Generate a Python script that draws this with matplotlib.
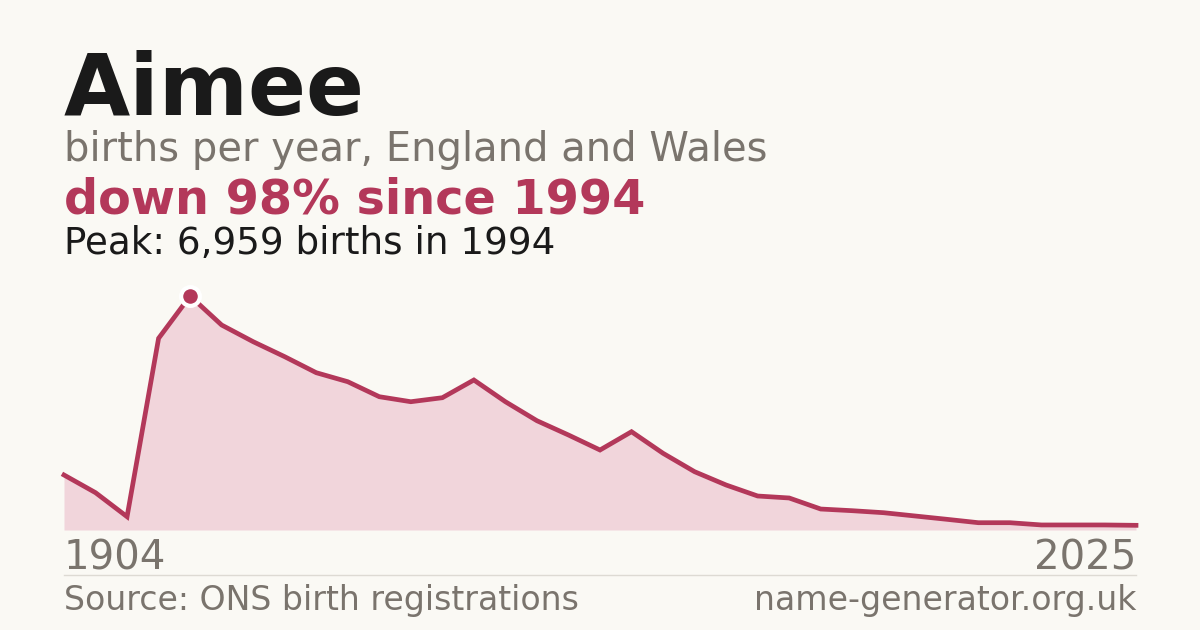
import matplotlib
matplotlib.use('Agg')
import matplotlib.pyplot as plt

# Aimee, births per year (England and Wales)
years = [1904, 1991, 1992, 1993] + list(range(1994, 2024)) + [2025]
births = [1636, 1110, 396, 5700, 6959, 6096, 5600, 5154, 4678, 4410,
          3964, 3815, 3934, 4461, 3815, 3250, 2825, 2379, 2923, 2281,
          1734, 1338, 1011, 952, 624, 574, 514, 416, 318, 217,
          217, 150, 150, 150, 139]

name = "Aimee"
subtitle = "births per year, England and Wales"
headline = "down 98% since 1994"
peak_note = "Peak: 6,959 births in 1994"
source = "Source: ONS birth registrations"
site = "name-generator.org.uk"

bg = '#faf9f4'
crimson = '#b3385a'
fill_col = '#f1d5db'
grey = '#7a746d'

W, H = 1200, 630
fig = plt.figure(figsize=(W / 100, H / 100), dpi=100, facecolor=bg)

def px(x, y):
    return x / W, 1 - y / H

# plot area: x 64..1136, baseline at y=530, peak at y=296
ax = fig.add_axes([64 / W, (H - 530) / H, 1072 / W, 234 / H])
ax.set_facecolor(bg)
xs = list(range(len(births)))
peak_i = births.index(max(births))
ax.fill_between(xs, births, 0, color=fill_col, lw=0, zorder=1)
ax.plot(xs, births, color=crimson, lw=3.4, solid_joinstyle='miter', zorder=2, clip_on=False)
ax.plot([xs[peak_i]], [births[peak_i]], 'o', ms=13.5, color=crimson,
        mec='white', mew=3, zorder=3, clip_on=False)
ax.set_xlim(0, len(births) - 1)
ax.set_ylim(0, max(births))
ax.axis('off')

# header text
fig.text(*px(64, 115), name, fontsize=61.7, fontweight='bold', color='#1a1a1a', va='baseline')
fig.text(*px(64, 161), subtitle, fontsize=28.8, color=grey, va='baseline')
fig.text(*px(64, 214), headline, fontsize=34.4, fontweight='bold', color=crimson, va='baseline')
fig.text(*px(64, 254), peak_note, fontsize=26.8, color='#1a1a1a', va='baseline')

# year labels
fig.text(*px(64, 570), str(years[0]), fontsize=29, color=grey, va='baseline')
fig.text(*px(1136, 570), str(years[-1]), fontsize=29, color=grey, va='baseline', ha='right')

# separator and footer
fig.add_artist(plt.Line2D([64 / W, 1136 / W], [1 - 575 / H] * 2, color='#dddad3', lw=1))
fig.text(*px(64, 610), source, fontsize=23.9, color=grey, va='baseline')
fig.text(*px(1136, 610), site, fontsize=23.9, color=grey, va='baseline', ha='right')

fig.savefig('out.png', dpi=100, facecolor=bg)
